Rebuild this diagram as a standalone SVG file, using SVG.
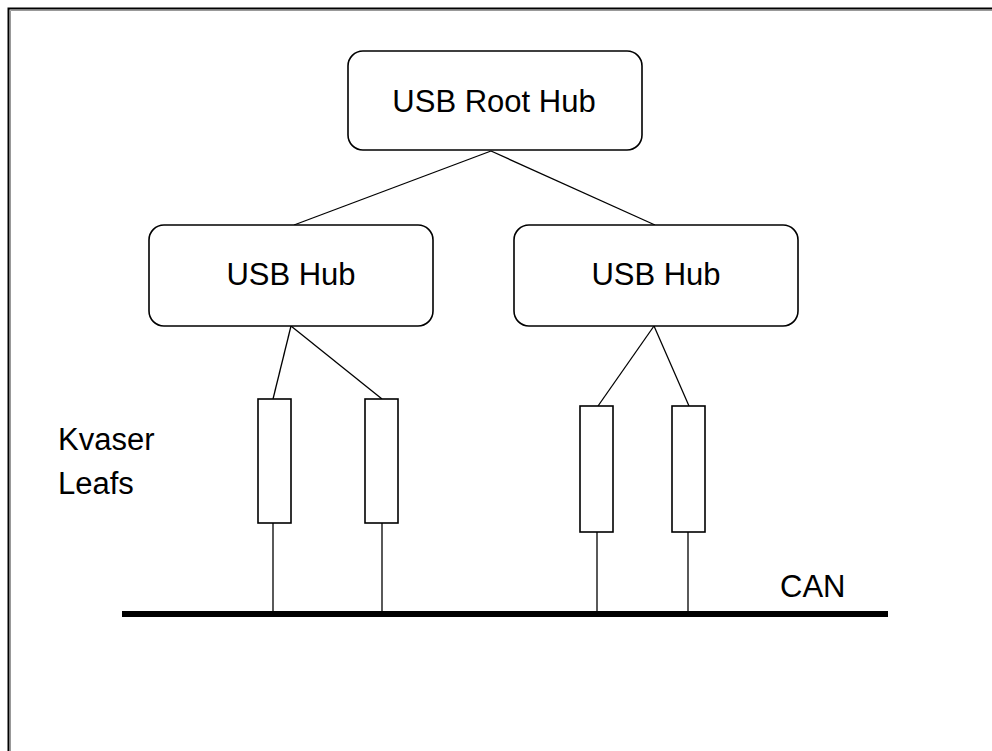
<svg xmlns="http://www.w3.org/2000/svg" width="992" height="751" viewBox="0 0 992 751">
<style>
.node{fill:#fff;stroke:#000;stroke-width:1.6}
.leaf{fill:#fff;stroke:#000;stroke-width:1.6}
.lbl{font-family:"Liberation Sans",Arial,sans-serif;font-size:31px;fill:#000}
.c{text-anchor:middle}
.conn{stroke:#000;stroke-width:1.3;fill:none}
</style>
<rect width="992" height="751" fill="#fff"/>
<g id="frame">
<path d="M8.5,751 V8.5 H992" stroke="#000" stroke-width="2" fill="none"/>
<path d="M10.5,751 V10.5 H992" stroke="#999" stroke-width="1" fill="none"/>
</g>
<g id="connectors">
<line class="conn" x1="491" y1="151" x2="294" y2="225"/>
<line class="conn" x1="491" y1="151" x2="655" y2="225"/>
<line class="conn" x1="291" y1="326" x2="273" y2="399"/>
<line class="conn" x1="291" y1="326" x2="382" y2="399"/>
<line class="conn" x1="654" y1="326" x2="598" y2="406"/>
<line class="conn" x1="654" y1="326" x2="689" y2="406"/>
<line class="conn" x1="273" y1="523" x2="273" y2="612"/>
<line class="conn" x1="382" y1="523" x2="382" y2="612"/>
<line class="conn" x1="597" y1="532" x2="597" y2="612"/>
<line class="conn" x1="688" y1="532" x2="688" y2="612"/>
</g>
<g id="can-bus">
<line x1="122" y1="614" x2="888" y2="614" stroke="#000" stroke-width="6"/>
<text class="lbl" x="780" y="597">CAN</text>
</g>
<g id="root-hub">
<rect class="node" x="348" y="51" width="294" height="99" rx="15" ry="15"/>
<text class="lbl c" x="494" y="112">USB Root Hub</text>
</g>
<g id="hub-left">
<rect class="node" x="149" y="225" width="284" height="101" rx="15" ry="15"/>
<text class="lbl c" x="291" y="285">USB Hub</text>
</g>
<g id="hub-right">
<rect class="node" x="514" y="225" width="284" height="101" rx="15" ry="15"/>
<text class="lbl c" x="656" y="285">USB Hub</text>
</g>
<g id="leaf-1"><rect class="leaf" x="258" y="399" width="33" height="124"/></g>
<g id="leaf-2"><rect class="leaf" x="365" y="399" width="33" height="124"/></g>
<g id="leaf-3"><rect class="leaf" x="580" y="406" width="33" height="126"/></g>
<g id="leaf-4"><rect class="leaf" x="672" y="406" width="33" height="126"/></g>
<g id="leafs-label">
<text class="lbl" x="58" y="450">Kvaser</text>
<text class="lbl" x="58" y="494">Leafs</text>
</g>
</svg>
